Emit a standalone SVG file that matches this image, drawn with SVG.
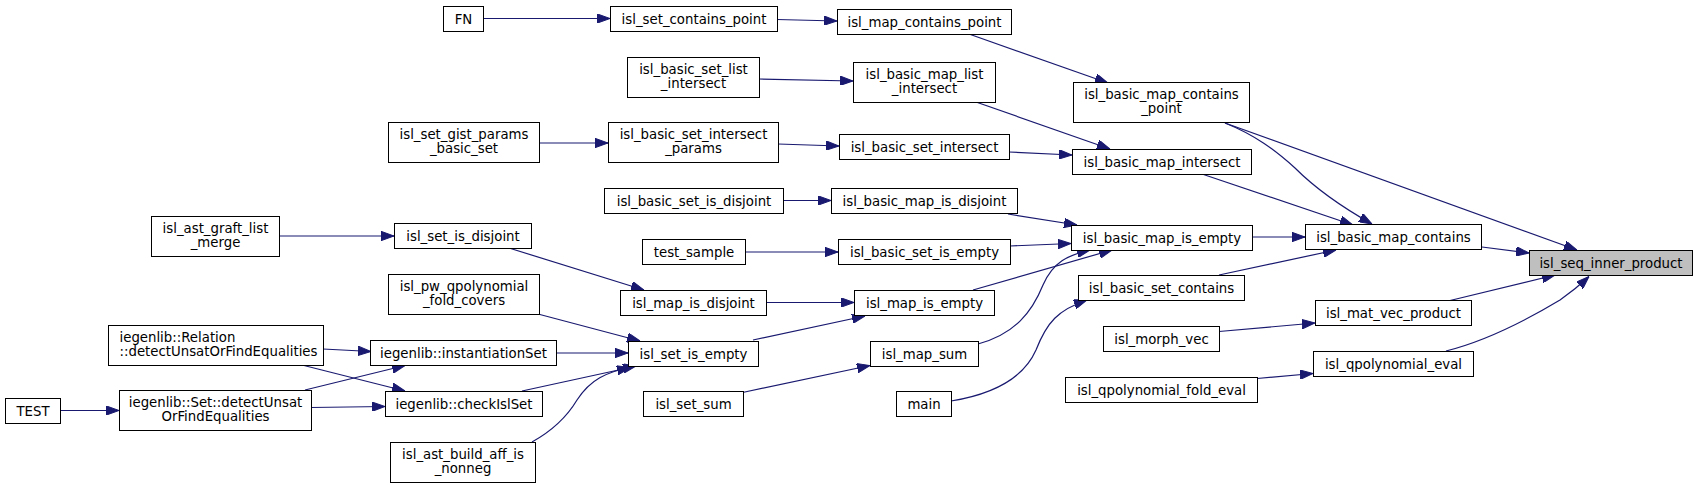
<svg xmlns="http://www.w3.org/2000/svg" width="1697" height="489" viewBox="0 0 1697 489">
<style>
.n rect{fill:#fff;stroke:#000;stroke-width:1}
.n text{font-family:"DejaVu Sans",sans-serif;font-size:13.3px;fill:#000;text-anchor:middle}
.n text.l{text-anchor:start}
#root rect{fill:#bfbfbf}
.e path{fill:none;stroke:#191970;stroke-width:1.2;marker-end:url(#ah)}
</style>
<defs>
<marker id="ah" viewBox="0 0 13 9.4" refX="13" refY="4.7" markerWidth="13" markerHeight="9.4" markerUnits="userSpaceOnUse" orient="auto">
<path d="M0,0 L13,4.7 L0,9.4 Z" fill="#191970" stroke="#191970" stroke-width="1"/>
</marker>
</defs>
<rect width="1697" height="489" fill="#fff"/>
<g id="edges" class="e">
<path d="M483,18.5 L610,18.5"/>
<path d="M777,19.5 L837,21"/>
<path d="M969,34 L1108,83"/>
<path d="M759,79 L853,81"/>
<path d="M976,102 L1110,149"/>
<path d="M539,143 L608,143"/>
<path d="M778,144 L839,146"/>
<path d="M1009,152 L1072,155"/>
<path d="M783,200.5 L831,200.5"/>
<path d="M1008,214 L1077,225"/>
<path d="M1010,246 L1071,243.5"/>
<path d="M973,290 L1112,250"/>
<path d="M978,344 C1015,334 1032,312 1043,285 C1053,262 1068,255 1090,250"/>
<path d="M745,252 L838,252"/>
<path d="M766,302.5 L854,302.5"/>
<path d="M753,340 L865,316"/>
<path d="M742.5,392.5 L870,365.5"/>
<path d="M951,401 C1000,393 1025,375 1036,350 C1047,322 1058,310 1087,300"/>
<path d="M1225,123 C1255,135 1275,150 1295,168 C1315,188 1340,206 1372,224"/>
<path d="M1225,123 L1577,250"/>
<path d="M1202,174 L1353,225"/>
<path d="M1252,237 L1305,237"/>
<path d="M1482,247 L1529,253"/>
<path d="M1219,275 L1336,250"/>
<path d="M1448,301 L1555,275"/>
<path d="M1446,351 C1490,340 1530,318 1560,300 C1570,293 1580,285 1589,276.5"/>
<path d="M1219,331.5 L1315,323"/>
<path d="M1257,378.5 L1313,373.5"/>
<path d="M279,236 L394,236"/>
<path d="M509,248 L644,290"/>
<path d="M538,314 L640,341"/>
<path d="M556,353 L628,353"/>
<path d="M522,391 L630,367.5"/>
<path d="M532,442 C550,432 565,420 577,400 C590,380 605,372 636,366"/>
<path d="M323,349 L371,351.5"/>
<path d="M302,365 L405,391"/>
<path d="M305,390 L405,365.5"/>
<path d="M311,407.5 L385,406.5"/>
<path d="M60,410.5 L119,410.5"/>
</g>
<g id="root" class="n"><rect x="1529.5" y="250.5" width="163" height="25"/><text x="1611" y="267.5">isl_seq_inner_product</text></g>
<g id="n_basic_map_contains_point" class="n"><rect x="1073.5" y="82.5" width="176" height="40"/><text x="1161.5" y="99">isl_basic_map_contains</text><text x="1161.5" y="113">_point</text></g>
<g id="n_basic_map_contains" class="n"><rect x="1305.5" y="224.5" width="176" height="25"/><text x="1393.5" y="241.5">isl_basic_map_contains</text></g>
<g id="n_mat_vec_product" class="n"><rect x="1315.5" y="300.5" width="156" height="25"/><text x="1393.5" y="317.5">isl_mat_vec_product</text></g>
<g id="n_qpolynomial_eval" class="n"><rect x="1313.5" y="351.5" width="160" height="25"/><text x="1393.5" y="368.5">isl_qpolynomial_eval</text></g>
<g id="n_map_contains_point" class="n"><rect x="837.5" y="9.5" width="174" height="25"/><text x="924.5" y="26.5">isl_map_contains_point</text></g>
<g id="n_set_contains_point" class="n"><rect x="610.5" y="6.5" width="167" height="25"/><text x="694" y="23.5">isl_set_contains_point</text></g>
<g id="n_FN" class="n"><rect x="443.5" y="6.5" width="40" height="25"/><text x="463.5" y="23.5">FN</text></g>
<g id="n_basic_map_intersect" class="n"><rect x="1072.5" y="149.5" width="179" height="25"/><text x="1162" y="166.5">isl_basic_map_intersect</text></g>
<g id="n_basic_map_list_intersect" class="n"><rect x="853.5" y="62.5" width="142" height="40"/><text x="924.5" y="79">isl_basic_map_list</text><text x="924.5" y="93">_intersect</text></g>
<g id="n_basic_set_list_intersect" class="n"><rect x="627.5" y="57.5" width="132" height="40"/><text x="693.5" y="74">isl_basic_set_list</text><text x="693.5" y="88">_intersect</text></g>
<g id="n_basic_set_intersect" class="n"><rect x="839.5" y="134.5" width="170" height="25"/><text x="924.5" y="151.5">isl_basic_set_intersect</text></g>
<g id="n_basic_set_intersect_params" class="n"><rect x="608.5" y="122.5" width="170" height="40"/><text x="693.5" y="139">isl_basic_set_intersect</text><text x="693.5" y="153">_params</text></g>
<g id="n_set_gist_params_basic_set" class="n"><rect x="388.5" y="122.5" width="151" height="40"/><text x="464" y="139">isl_set_gist_params</text><text x="464" y="153">_basic_set</text></g>
<g id="n_basic_map_is_empty" class="n"><rect x="1071.5" y="225.5" width="181" height="25"/><text x="1162" y="242.5">isl_basic_map_is_empty</text></g>
<g id="n_basic_map_is_disjoint" class="n"><rect x="831.5" y="188.5" width="186" height="25"/><text x="924.5" y="205.5">isl_basic_map_is_disjoint</text></g>
<g id="n_basic_set_is_disjoint" class="n"><rect x="604.5" y="188.5" width="179" height="25"/><text x="694" y="205.5">isl_basic_set_is_disjoint</text></g>
<g id="n_basic_set_is_empty" class="n"><rect x="838.5" y="239.5" width="172" height="25"/><text x="924.5" y="256.5">isl_basic_set_is_empty</text></g>
<g id="n_test_sample" class="n"><rect x="642.5" y="239.5" width="103" height="25"/><text x="694" y="256.5">test_sample</text></g>
<g id="n_map_is_empty" class="n"><rect x="854.5" y="290.5" width="140" height="25"/><text x="924.5" y="307.5">isl_map_is_empty</text></g>
<g id="n_map_is_disjoint" class="n"><rect x="620.5" y="290.5" width="146" height="25"/><text x="693.5" y="307.5">isl_map_is_disjoint</text></g>
<g id="n_set_is_disjoint" class="n"><rect x="394.5" y="223.5" width="137" height="25"/><text x="463" y="240.5">isl_set_is_disjoint</text></g>
<g id="n_ast_graft_list_merge" class="n"><rect x="151.5" y="216.5" width="128" height="40"/><text x="215.5" y="233">isl_ast_graft_list</text><text x="215.5" y="247">_merge</text></g>
<g id="n_set_is_empty" class="n"><rect x="628.5" y="341.5" width="130" height="25"/><text x="693.5" y="358.5">isl_set_is_empty</text></g>
<g id="n_pw_qpolynomial_fold_covers" class="n"><rect x="388.5" y="274.5" width="151" height="40"/><text x="464" y="291">isl_pw_qpolynomial</text><text x="464" y="305">_fold_covers</text></g>
<g id="n_instantiationSet" class="n"><rect x="370.5" y="340.5" width="186" height="25"/><text x="463.5" y="357.5">iegenlib::instantiationSet</text></g>
<g id="n_Relation_detect" class="n"><rect x="108.5" y="325.5" width="215" height="40"/><text class="l" x="119.5" y="342">iegenlib::Relation</text><text class="l" x="119.5" y="356">::detectUnsatOrFindEqualities</text></g>
<g id="n_Set_detect" class="n"><rect x="119.5" y="390.5" width="192" height="40"/><text x="215.5" y="407">iegenlib::Set::detectUnsat</text><text x="215.5" y="421">OrFindEqualities</text></g>
<g id="n_TEST" class="n"><rect x="5.5" y="398.5" width="55" height="25"/><text x="33" y="415.5">TEST</text></g>
<g id="n_checkIslSet" class="n"><rect x="385.5" y="391.5" width="157" height="25"/><text x="464" y="408.5">iegenlib::checkIslSet</text></g>
<g id="n_ast_build_aff_is_nonneg" class="n"><rect x="390.5" y="442.5" width="145" height="40"/><text x="463" y="459">isl_ast_build_aff_is</text><text x="463" y="473">_nonneg</text></g>
<g id="n_map_sum" class="n"><rect x="870.5" y="341.5" width="108" height="25"/><text x="924.5" y="358.5">isl_map_sum</text></g>
<g id="n_set_sum" class="n"><rect x="643.5" y="391.5" width="100" height="25"/><text x="693.5" y="408.5">isl_set_sum</text></g>
<g id="n_basic_set_contains" class="n"><rect x="1078.5" y="275.5" width="166" height="25"/><text x="1161.5" y="292.5">isl_basic_set_contains</text></g>
<g id="n_main" class="n"><rect x="896.5" y="391.5" width="55" height="25"/><text x="924" y="408.5">main</text></g>
<g id="n_morph_vec" class="n"><rect x="1103.5" y="326.5" width="116" height="25"/><text x="1161.5" y="343.5">isl_morph_vec</text></g>
<g id="n_qpolynomial_fold_eval" class="n"><rect x="1065.5" y="377.5" width="192" height="25"/><text x="1161.5" y="394.5">isl_qpolynomial_fold_eval</text></g>
</svg>
